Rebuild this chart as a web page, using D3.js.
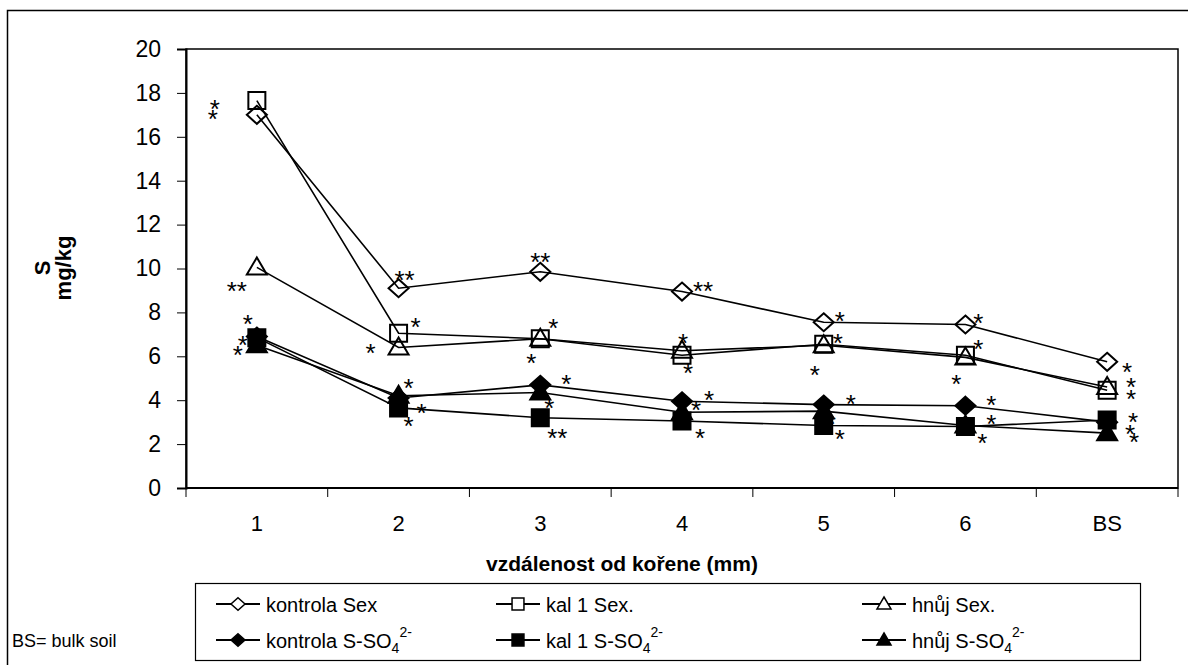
<!DOCTYPE html>
<html>
<head>
<meta charset="utf-8">
<script src="https://cdn.jsdelivr.net/npm/d3@7"></script>
<style>
  body { margin: 0; background: white; }
  text { font-family: "Liberation Sans", Arial, sans-serif; }
</style>
</head>
<body>
<div id="chart"></div>
<script>
// categories (distance from root) and values in mg/kg
const categories = ["1", "2", "3", "4", "5", "6", "BS"];
const yTicks = [0, 2, 4, 6, 8, 10, 12, 14, 16, 18, 20];

const kontrolaSex = [17.0, 9.1, 9.85, 8.95, 7.55, 7.45, 5.75];
const kalSex = [17.65, 7.05, 6.8, 6.05, 6.55, 6.05, 4.45];
const hnujSex = [10.05, 6.4, 6.8, 6.25, 6.5, 5.95, 4.6];
const kontrolaSO4 = [6.9, 4.1, 4.7, 3.95, 3.8, 3.75, 3.0];
const kalSO4 = [6.85, 3.65, 3.2, 3.05, 2.85, 2.8, 3.1];
const hnujSO4 = [6.5, 4.2, 4.35, 3.45, 3.5, 2.85, 2.5];

// significance marks: [category, level (mg/kg), shift px, text]
const stars = [
  ["1", 17.55, -42, "*"], ["1", 17.09, -44, "*"], ["1", 9.23, -20, "**"],
  ["1", 7.73, -9, "*"], ["1", 6.77, -14, "*"], ["1", 6.32, -19, "*"],
  ["2", 9.73, 6, "**"], ["2", 7.59, 17, "*"], ["2", 6.41, -28, "*"],
  ["2", 4.82, 10, "*"], ["2", 3.68, 23, "*"], ["2", 3.09, 10, "*"],
  ["3", 10.59, 0, "**"], ["3", 7.55, 13, "*"], ["3", 5.95, -9, "*"],
  ["3", 5.0, 26, "*"], ["3", 3.91, 9, "*"], ["3", 2.55, 17, "**"],
  ["4", 9.27, 21, "**"], ["4", 6.86, 1, "*"], ["4", 5.5, 6, "*"],
  ["4", 4.27, 27, "*"], ["4", 3.82, 14, "*"], ["4", 2.55, 18, "*"],
  ["5", 7.86, 16, "*"], ["5", 6.86, 14, "*"], ["5", 5.41, -9, "*"],
  ["5", 4.09, 27, "*"], ["5", 3.18, 7, "*"], ["5", 2.5, 16, "*"],
  ["6", 7.77, 13, "*"], ["6", 6.59, 13, "*"], ["6", 5.0, -9, "*"],
  ["6", 4.05, 26, "*"], ["6", 3.18, 26, "*"], ["6", 2.32, 17, "*"],
  ["BS", 5.55, 20, "*"], ["BS", 4.86, 24, "*"], ["BS", 4.32, 24, "*"],
  ["BS", 3.27, 26, "*"], ["BS", 2.73, 23, "*"], ["BS", 2.36, 27, "*"]
];

const series = [
  { name: "kontrola Sex", values: kontrolaSex, shape: "diamond", filled: false },
  { name: "kal 1 Sex.", values: kalSex, shape: "square", filled: false },
  { name: "hnůj Sex.", values: hnujSex, shape: "triangle", filled: false },
  { name: "kontrola S-SO", values: kontrolaSO4, shape: "diamond", filled: true },
  { name: "kal 1 S-SO", values: kalSO4, shape: "square", filled: true },
  { name: "hnůj S-SO", values: hnujSO4, shape: "triangle", filled: true }
];

const width = 1188, height = 665;
var svg = d3.select("#chart").append("svg")
  .attr("width", width)
  .attr("height", height);

// outer frame
svg.append("rect")
  .attr("x", 7.5).attr("y", 10.5)
  .attr("width", 1190).attr("height", 670)
  .attr("fill", "none").attr("stroke", "black").attr("stroke-width", 1.5);

const plotLeft = 186, plotRight = 1178, plotTop = 49, plotBottom = 488;

var x = d3.scaleBand().domain(categories).range([plotLeft, plotRight]);
var y = d3.scaleLinear().domain([0, 20]).range([plotBottom, plotTop]);

// plot area border
svg.append("rect")
  .attr("x", plotLeft).attr("y", plotTop)
  .attr("width", plotRight - plotLeft).attr("height", plotBottom - plotTop)
  .attr("fill", "none").attr("stroke", "black").attr("stroke-width", 1.5);

// y axis
var yAxis = svg.append("g")
  .attr("transform", `translate(${plotLeft},0)`)
  .call(d3.axisLeft(y).tickValues(yTicks).tickSize(9).tickPadding(16));
yAxis.select(".domain").attr("stroke-width", 2);
yAxis.selectAll("text").attr("font-size", 23).attr("fill", "black")
  .attr("font-family", '"Liberation Sans", Arial, sans-serif');

// x axis - ticks on band edges
var xAxis = svg.append("g")
  .attr("transform", `translate(0,${plotBottom})`);
xAxis.append("line")
  .attr("x1", plotLeft).attr("x2", plotRight)
  .attr("stroke", "black").attr("stroke-width", 2);
xAxis.selectAll(".edge")
  .data(categories.concat(["end"]))
  .join("line")
  .attr("x1", (d, i) => plotLeft + i * x.step())
  .attr("x2", (d, i) => plotLeft + i * x.step())
  .attr("y1", 0).attr("y2", 9)
  .attr("stroke", "black");
xAxis.selectAll(".lbl")
  .data(categories)
  .join("text")
  .attr("x", d => x(d) + x.bandwidth() / 2)
  .attr("y", 43)
  .attr("text-anchor", "middle")
  .attr("font-size", 22)
  .text(d => d);

// axis titles
svg.append("text")
  .attr("x", (plotLeft + plotRight) / 2 - 60).attr("y", 571)
  .attr("text-anchor", "middle")
  .attr("font-size", 21).attr("font-weight", "bold")
  .text("vzdálenost od kořene (mm)");

svg.append("text")
  .attr("transform", "translate(50,268) rotate(-90)")
  .attr("text-anchor", "middle")
  .attr("font-size", 22).attr("font-weight", "bold")
  .text("S");
svg.append("text")
  .attr("transform", "translate(71,268) rotate(-90)")
  .attr("text-anchor", "middle")
  .attr("font-size", 22).attr("font-weight", "bold")
  .text("mg/kg");

// marker shapes
function shapePath(shape, s) {
  if (shape === "diamond") {
    return `M0,${-9 * s}L${10 * s},0L0,${9 * s}L${-10 * s},0Z`;
  }
  if (shape === "square") {
    return `M${-8.5 * s},${-8.5 * s}h${17 * s}v${17 * s}h${-17 * s}Z`;
  }
  return `M0,${-10 * s}L${10 * s},${7 * s}L${-10 * s},${7 * s}Z`;
}

var line = d3.line()
  .x((d, i) => x(categories[i]) + x.bandwidth() / 2)
  .y(d => y(d));

var plot = svg.append("g");
series.forEach(function (s) {
  plot.append("path")
    .attr("d", line(s.values))
    .attr("fill", "none")
    .attr("stroke", "black")
    .attr("stroke-width", 1.6);
  plot.selectAll(null)
    .data(s.values)
    .join("path")
    .attr("transform", (d, i) => `translate(${x(categories[i]) + x.bandwidth() / 2},${y(d)})`)
    .attr("d", shapePath(s.shape, 1))
    .attr("fill", s.filled ? "black" : "none")
    .attr("stroke", "black")
    .attr("stroke-width", 2);
});

// stars
svg.append("g").selectAll("text")
  .data(stars)
  .join("text")
  .attr("x", d => x(d[0]) + x.bandwidth() / 2 + d[2])
  .attr("y", d => y(d[1]) + 15)
  .attr("text-anchor", "middle")
  .attr("font-size", 26)
  .text(d => d[3]);

// legend
svg.append("rect")
  .attr("x", 195.5).attr("y", 583.5)
  .attr("width", 945).attr("height", 77)
  .attr("fill", "white").attr("stroke", "black").attr("stroke-width", 1.2);

const legendX = [238, 518, 884];
const legendY = [604, 640];

var legend = svg.append("g");
series.forEach(function (s, i) {
  var cx = legendX[i % 3], cy = legendY[Math.floor(i / 3)];
  var g = legend.append("g").attr("transform", `translate(${cx},${cy})`);
  g.append("line").attr("x1", -22).attr("x2", 22)
    .attr("stroke", "black").attr("stroke-width", 2);
  g.append("path").attr("d", shapePath(s.shape, 0.7))
    .attr("fill", s.filled ? "black" : "white")
    .attr("stroke", "black").attr("stroke-width", 1.5);
  var t = g.append("text").attr("x", 28).attr("y", 8).attr("font-size", 20).text(s.name);
  if (s.filled) {
    t.append("tspan").attr("font-size", 14).attr("dy", 5).text("4");
    t.append("tspan").attr("font-size", 14).attr("dy", -16).text("2-");
  }
});

svg.append("text")
  .attr("x", 12).attr("y", 647)
  .attr("font-size", 18)
  .text("BS= bulk soil");
</script>
</body>
</html>
